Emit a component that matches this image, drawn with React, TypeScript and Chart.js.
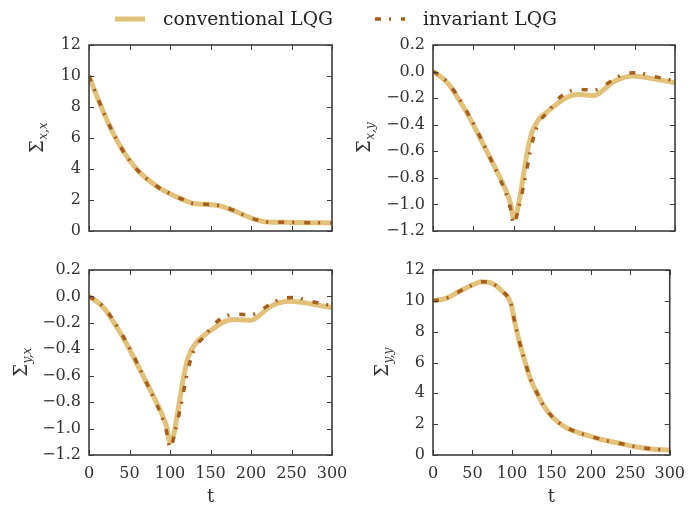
import { useEffect, useRef } from "react";
import { Chart, registerables } from "chart.js";
Chart.register(...registerables);

const W = 694;
const H = 507;

// ---------------- data ----------------
const seriesLabels = ["conventional LQG", "invariant LQG"];
const xTicks = [0, 50, 100, 150, 200, 250, 300];
const xTitle = "t";

// Σ_{x,x}
const tXX = [0, 13, 25.6, 41, 60, 85, 100, 114, 129, 145, 160, 176, 191, 206, 220, 240, 269, 300];
const xxConv = [10, 8.28, 6.77, 5.26, 3.92, 2.84, 2.41, 2.07, 1.77, 1.72, 1.64, 1.38, 1.03, 0.73, 0.58, 0.56, 0.54, 0.52];
const xxInv = [10, 8.28, 6.77, 5.26, 3.92, 2.84, 2.41, 2.07, 1.77, 1.72, 1.64, 1.38, 1.03, 0.73, 0.58, 0.56, 0.54, 0.52];

// Σ_{x,y}
const tXYConv = [0, 10, 20, 30, 40, 50, 60, 70, 80, 90, 96, 100, 104, 110, 116, 122, 130, 141, 153, 165, 178, 190, 200, 211, 223, 236, 248, 260, 277, 300];
const xyConv = [0, -0.04, -0.1, -0.19, -0.29, -0.4, -0.52, -0.64, -0.76, -0.89, -0.99, -1.1, -1.06, -0.86, -0.637, -0.47, -0.37, -0.305, -0.247, -0.197, -0.172, -0.177, -0.18, -0.14, -0.08, -0.046, -0.034, -0.041, -0.059, -0.084];
const tXYInv = [0, 10, 20, 30, 40, 50, 60, 70, 80, 90, 96, 100, 106, 114, 122, 130, 143, 153, 165, 182, 199, 211, 225, 240, 254, 271, 288, 300];
const xyInv = [0, -0.035, -0.095, -0.18, -0.28, -0.39, -0.51, -0.64, -0.77, -0.91, -1.03, -1.15, -1.03, -0.81, -0.56, -0.4, -0.3, -0.22, -0.16, -0.134, -0.14, -0.11, -0.054, -0.013, -0.008, -0.034, -0.054, -0.07];

// Σ_{y,x}
const tYXConv = [0, 10, 20, 30, 40, 50, 60, 70, 80, 90, 96, 100, 104, 110, 116, 122, 130, 141, 153, 165, 178, 190, 200, 211, 223, 236, 248, 260, 277, 300];
const yxConv = [0, -0.04, -0.1, -0.19, -0.29, -0.4, -0.52, -0.64, -0.76, -0.89, -0.99, -1.1, -1.06, -0.86, -0.637, -0.47, -0.37, -0.3, -0.247, -0.197, -0.175, -0.178, -0.18, -0.14, -0.08, -0.046, -0.036, -0.043, -0.06, -0.084];
const tYXInv = [0, 10, 20, 30, 40, 50, 60, 70, 80, 90, 96, 100, 106, 114, 122, 130, 143, 153, 165, 182, 199, 211, 225, 240, 254, 271, 288, 300];
const yxInv = [0, -0.035, -0.095, -0.18, -0.28, -0.39, -0.51, -0.64, -0.77, -0.91, -1.03, -1.15, -1.03, -0.81, -0.56, -0.4, -0.3, -0.22, -0.16, -0.134, -0.14, -0.11, -0.054, -0.013, -0.008, -0.034, -0.054, -0.07];

// Σ_{y,y}
const tYY = [0, 16.5, 33, 50, 62, 74.5, 87, 99.3, 103, 110, 116, 124, 132, 141, 153, 165.5, 182, 198.6, 215, 236, 256.5, 277, 300];
const yyConv = [10, 10.16, 10.6, 11.03, 11.24, 11.14, 10.66, 9.73, 8.76, 7.24, 6.16, 4.86, 4.0, 3.14, 2.38, 1.88, 1.49, 1.23, 0.99, 0.76, 0.54, 0.39, 0.32];
const yyInv = [10, 10.16, 10.6, 11.03, 11.24, 11.14, 10.66, 9.73, 8.76, 7.24, 6.16, 4.86, 4.0, 3.14, 2.38, 1.88, 1.49, 1.23, 0.99, 0.76, 0.54, 0.39, 0.32];

// ---------------- style ----------------
const TAN = "#e2c27a";
const BROWN = "#a65e1c";
const AXIS = "#3c3c3c";
const TEXT = "#333333";
const FONT = '"DejaVu Serif", serif';

const pts = (t: number[], v: number[]) => t.map((x, i) => ({ x, y: v[i] }));

const fmt1 = (v: number) => {
  const n = Math.abs(v) < 1e-9 ? 0 : v;
  return n.toFixed(1).replace("-", "\u2212");
};
const fmt0 = (v: number) => String(Math.round(v));

const framePlugin = {
  id: "frame",
  afterDatasetsDraw(chart: any) {
    const { ctx, chartArea: a, scales } = chart;
    const L = 5;
    ctx.save();
    ctx.strokeStyle = AXIS;
    ctx.lineWidth = 1;
    ctx.beginPath();
    scales.x.ticks.forEach((tk: any) => {
      const px = Math.round(scales.x.getPixelForValue(tk.value)) + 0.5;
      ctx.moveTo(px, a.bottom);
      ctx.lineTo(px, a.bottom - L);
      ctx.moveTo(px, a.top);
      ctx.lineTo(px, a.top + L);
    });
    scales.y.ticks.forEach((tk: any) => {
      const py = Math.round(scales.y.getPixelForValue(tk.value)) + 0.5;
      ctx.moveTo(a.left, py);
      ctx.lineTo(a.left + L, py);
      ctx.moveTo(a.right, py);
      ctx.lineTo(a.right - L, py);
    });
    ctx.stroke();
    ctx.lineWidth = 1.6;
    ctx.strokeRect(a.left, a.top, a.right - a.left, a.bottom - a.top);
    ctx.restore();
  },
};

const axisTitlePlugin = {
  id: "axlab",
  afterDraw(chart: any, _args: any, opts: any) {
    const { ctx, chartArea: a } = chart;
    ctx.save();
    ctx.fillStyle = TEXT;
    // x title
    if (opts.showX) {
      ctx.font = `18px ${FONT}`;
      ctx.textAlign = "center";
      ctx.textBaseline = "middle";
      ctx.fillText(opts.xText, (a.left + a.right) / 2, a.bottom + opts.xOffset);
    }
    // y title: Σ with italic subscript, rotated
    const x = a.left - opts.offset;
    const y = (a.top + a.bottom) / 2;
    ctx.translate(x, y);
    ctx.rotate(-Math.PI / 2);
    ctx.textBaseline = "alphabetic";
    ctx.textAlign = "left";
    const big = `18px ${FONT}`;
    const small = `italic 12px ${FONT}`;
    ctx.font = big;
    const wS = ctx.measureText("\u03a3").width;
    ctx.font = small;
    const wSub = ctx.measureText(opts.sub).width;
    const start = -(wS + wSub) / 2;
    ctx.font = big;
    ctx.fillText("\u03a3", start, 0);
    ctx.font = small;
    ctx.fillText(opts.sub, start + wS + 0.5, 4);
    ctx.restore();
  },
};

const legendPlugin = {
  id: "figlegend",
  afterDraw(chart: any, _args: any, opts: any) {
    if (!opts || !opts.show) return;
    const { ctx } = chart;
    const ds = chart.data.datasets;
    ctx.save();
    ds.forEach((d: any, i: number) => {
      const x0 = opts.xs[i];
      ctx.strokeStyle = d.borderColor;
      ctx.lineWidth = d.borderWidth;
      ctx.setLineDash(d.borderDash || []);
      ctx.beginPath();
      ctx.moveTo(x0, opts.y);
      ctx.lineTo(x0 + opts.len, opts.y);
      ctx.stroke();
      ctx.setLineDash([]);
      ctx.fillStyle = "#222";
      ctx.font = `18.7px ${FONT}`;
      ctx.textBaseline = "middle";
      ctx.textAlign = "left";
      ctx.fillText(d.label, x0 + opts.len + opts.gap, opts.y + 1);
    });
    ctx.restore();
  },
};

type Panel = {
  tConv: number[];
  conv: number[];
  tInv: number[];
  inv: number[];
  yMin: number;
  yMax: number;
  yStep: number;
  fmt: (v: number) => string;
  sub: string;
  labelOffset: number;
  pad: { left: number; top: number; right: number; bottom: number };
  showX: boolean;
  legend: boolean;
};

const panels: Panel[] = [
  {
    tConv: tXX, conv: xxConv, tInv: tXX, inv: xxInv,
    yMin: 0, yMax: 12, yStep: 2, fmt: fmt0, sub: "x,x", labelOffset: 46,
    pad: { left: 29, top: 45, right: 362, bottom: 236 }, showX: false, legend: true,
  },
  {
    tConv: tXYConv, conv: xyConv, tInv: tXYInv, inv: xyInv,
    yMin: -1.2, yMax: 0.2, yStep: 0.2, fmt: fmt1, sub: "x,y", labelOffset: 63,
    pad: { left: 373, top: 45, right: 19, bottom: 236 }, showX: false, legend: false,
  },
  {
    tConv: tYXConv, conv: yxConv, tInv: tYXInv, inv: yxInv,
    yMin: -1.2, yMax: 0.2, yStep: 0.2, fmt: fmt1, sub: "y,x", labelOffset: 62,
    pad: { left: 29, top: 270, right: 362, bottom: 12 }, showX: true, legend: false,
  },
  {
    tConv: tYY, conv: yyConv, tInv: tYY, inv: yyInv,
    yMin: 0, yMax: 12, yStep: 2, fmt: fmt0, sub: "y,y", labelOffset: 45,
    pad: { left: 373, top: 270, right: 19, bottom: 12 }, showX: true, legend: false,
  },
];

function makeConfig(p: Panel): any {
  return {
    type: "line",
    data: {
      datasets: [
        {
          label: seriesLabels[0],
          data: pts(p.tConv, p.conv),
          borderColor: TAN,
          borderWidth: 5,
          pointRadius: 0,
          cubicInterpolationMode: "monotone",
          borderCapStyle: "butt",
          fill: false,
          order: 1,
        },
        {
          label: seriesLabels[1],
          data: pts(p.tInv, p.inv),
          borderColor: BROWN,
          borderWidth: 3.5,
          borderDash: [6, 8, 2, 10],
          pointRadius: 0,
          cubicInterpolationMode: "monotone",
          borderCapStyle: "butt",
          fill: false,
          order: 0,
        },
      ],
    },
    options: {
      responsive: false,
      animation: false,
      events: [],
      layout: { padding: p.pad },
      plugins: {
        legend: { display: false },
        tooltip: { enabled: false },
        axlab: { sub: p.sub, offset: p.labelOffset, showX: p.showX, xText: xTitle, xOffset: 42 },
        figlegend: { show: p.legend, xs: [115, 375], y: 19, len: 30, gap: 18 },
      },
      scales: {
        x: {
          type: "linear",
          min: 0,
          max: 300,
          afterBuildTicks: (s: any) => {
            s.ticks = xTicks.map((v) => ({ value: v }));
          },
          ticks: {
            display: p.showX,
            autoSkip: false,
            maxRotation: 0,
            padding: 9,
            color: TEXT,
            font: { family: FONT, size: 16 },
            callback: (v: any) => String(v),
          },
          grid: { display: false, drawTicks: false },
          border: { display: false },
          title: { display: false },
          afterFit: (s: any) => {
            s.height = 40;
          },
        },
        y: {
          type: "linear",
          min: p.yMin,
          max: p.yMax,
          ticks: {
            stepSize: p.yStep,
            autoSkip: false,
            padding: 8,
            color: TEXT,
            font: { family: FONT, size: 16 },
            callback: (v: any) => p.fmt(Number(v)),
          },
          grid: { display: false, drawTicks: false },
          border: { display: false },
          afterFit: (s: any) => {
            s.width = 60;
          },
        },
      },
    },
    plugins: [framePlugin, axisTitlePlugin, legendPlugin],
  };
}

function PanelCanvas({ p }: { p: Panel }) {
  const ref = useRef<HTMLCanvasElement | null>(null);
  useEffect(() => {
    if (!ref.current) return;
    const chart = new Chart(ref.current, makeConfig(p));
    return () => chart.destroy();
  }, [p]);
  return (
    <canvas
      ref={ref}
      width={W}
      height={H}
      style={{ position: "absolute", left: 0, top: 0, width: W, height: H }}
    />
  );
}

export default function App() {
  return (
    <div
      style={{
        position: "fixed",
        left: 0,
        top: 0,
        width: W,
        height: H,
        background: "#ffffff",
        overflow: "hidden",
      }}
    >
      {panels.map((p, i) => (
        <PanelCanvas key={i} p={p} />
      ))}
    </div>
  );
}
